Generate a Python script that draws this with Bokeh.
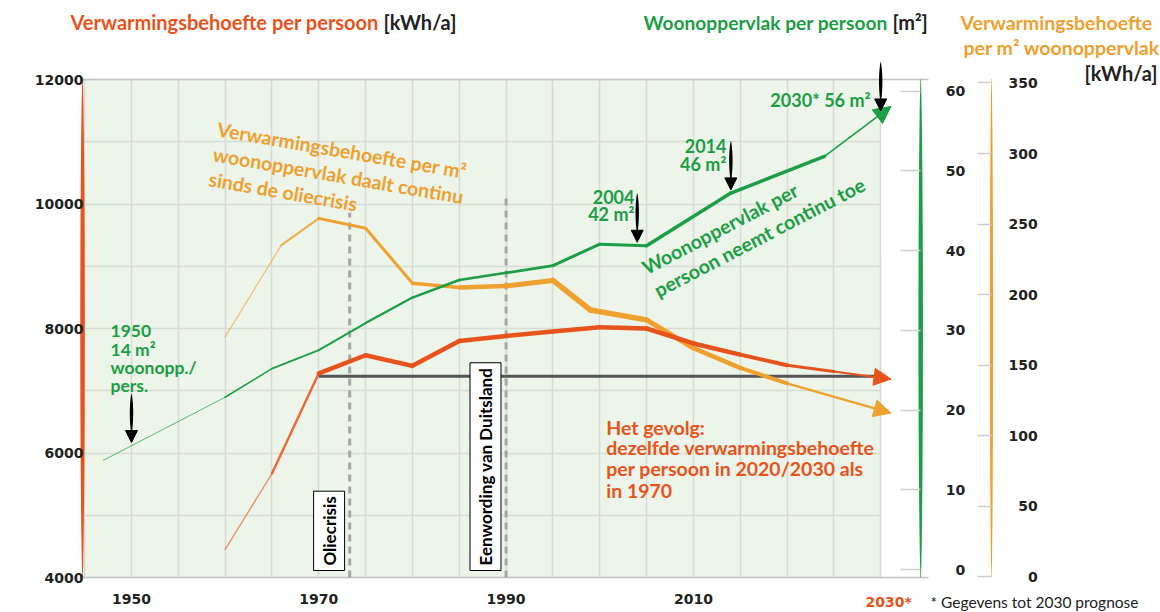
import math
import numpy as np
from bokeh.plotting import figure
from bokeh.models import (Range1d, LinearAxis, FixedTicker, Label, Arrow, NormalHead,
                          BoxAnnotation, ColumnDataSource, Grid)
from bokeh.embed import file_html
from bokeh.resources import INLINE

# ---------------- data ----------------
red_years = [1960, 1965, 1970, 1975, 1980, 1985, 1990, 1995, 2000, 2005, 2010, 2015, 2020, 2025, 2030]
red_kwh_per_person = [4450, 5670, 7280, 7570, 7400, 7800, 7880, 7950, 8020, 8000, 7760, 7580, 7410, 7310, 7210]

green_years = [1947, 1960, 1965, 1970, 1975, 1980, 1985, 1990, 1995, 2000, 2005, 2014, 2024, 2030]
green_m2_per_person = [13.7, 21.6, 25.2, 27.5, 30.9, 34.1, 36.3, 37.2, 38.1, 40.8, 40.6, 47.2, 51.8, 57.1]

orange_years = [1960, 1966, 1970, 1975, 1980, 1985, 1990, 1995, 1999, 2005, 2010, 2015, 2020, 2030]
orange_kwh_per_m2 = [170, 235, 254, 247, 208, 205, 206, 210, 189, 182, 162, 148, 137, 118]

level_1970 = 7234            # black reference line (kWh/a per person)
level_years = [1970, 2030]
event_years = [1973.3, 1990]
event_names = ["Oliecrisis", "Eenwording van Duitsland"]
callout_years = [1950, 2004, 2014, 2030]

left_ticks = [4000, 6000, 8000, 10000, 12000]
green_ticks = [0, 10, 20, 30, 40, 50, 60]
orange_ticks = [0, 50, 100, 150, 200, 250, 300, 350]
x_ticks = [1950, 1970, 1990, 2010, 2030]
x_grid_years = list(range(1945, 2031, 5))
y_grid_values = list(range(4000, 12001, 1000))

# ---------------- styles / layout ----------------
RED = "#e8531c"
GREEN = "#1b9e45"
ORANGE = "#efa02e"
DARK = "#222222"
BG = "#edf4e9"
GRIDC = "#d6dbd4"
TFONT = "Lato"
NFONT = "DejaVu Sans"
PX_PER_YEAR = 9.365

CH_L, CH_R, LIGHT_R = 1944.77, 2034.27, 2030      # chart box in years
ORANGE_AXIS_X = 2041.83
GREEN_BOUNDS = (-1.0, 61.44)
ORANGE_BOUNDS = (-0.71, 352.84)

red_w = [1.4, 2.5, 4.5, 4.5, 4.5, 4.5, 4.5, 4.5, 4.5, 4.5, 4.5, 4, 3, 2]
red_a = [0.6, 0.85] + [1] * 12
green_w = [1, 1.5, 1.8, 2, 2.2, 2.5, 2.5, 2.8, 3, 3, 3.5, 3.5, 1.6]
green_a = [0.7] + [1] * 12
orange_w = [1.3, 2, 3, 3, 3.5, 4.5, 5, 5.5, 5.5, 5, 4.5, 4, 2.2]
orange_a = [0.6, 0.85] + [1] * 11

p = figure(frame_width=1160, frame_height=612,
           min_border_left=0, min_border_right=0, min_border_top=0, min_border_bottom=0,
           x_range=Range1d(1936.012, 2059.877), y_range=Range1d(3437.75, 13269.1),
           output_backend="svg", toolbar_location=None,
           background_fill_color="white", border_fill_color="white", outline_line_color=None)
p.extra_y_ranges = {"green": Range1d(-5.39, 71.35), "orange": Range1d(-25.53, 408.51)}

# light green chart area
p.add_layout(BoxAnnotation(left=CH_L, right=LIGHT_R, bottom=4000, top=12000,
                           fill_color=BG, fill_alpha=1.0, line_alpha=0, level="image"))

# grids
p.xgrid.ticker = FixedTicker(ticks=x_grid_years)
p.ygrid.ticker = FixedTicker(ticks=y_grid_values)
if "cross_bounds" in Grid.properties():
    p.xgrid.cross_bounds = (4000, 12000)
    p.ygrid.cross_bounds = (CH_L, LIGHT_R)
    for g in (p.xgrid[0], p.ygrid[0]):
        g.grid_line_color = GRIDC
        g.grid_line_width = 1.5
else:
    p.xgrid.visible = False
    p.ygrid.visible = False
    p.segment(x0=x_grid_years, y0=[4000] * len(x_grid_years), x1=x_grid_years,
              y1=[12000] * len(x_grid_years), line_color=GRIDC, line_width=1.5)
    p.segment(x0=[CH_L] * len(y_grid_values), y0=y_grid_values, x1=[LIGHT_R] * len(y_grid_values),
              y1=y_grid_values, line_color=GRIDC, line_width=1.5)

# top / bottom border of chart box
p.segment(x0=[CH_L, CH_L], y0=[12000, 4000], x1=[2035.1, 2035.1], y1=[12000, 4000],
          line_color="#c4c4c4", line_width=1.5)


def spindle(xc, y0, y1, wmax_px, color, rng=None, n=120, power=0.5, floor=0.15):
    """tapered vertical bar (axis bars and arrow stems)"""
    t = np.linspace(0, 1, n)
    hw = wmax_px / 2 * np.clip(np.sin(np.pi * t) ** power, floor, 1.0) / PX_PER_YEAR
    ys = y0 + (y1 - y0) * t
    xs = np.concatenate([xc - hw, (xc + hw)[::-1]])
    yy = np.concatenate([ys, ys[::-1]])
    kw = {} if rng is None else {"y_range_name": rng}
    p.patch(xs, yy, fill_color=color, line_color=None, **kw)


spindle(CH_L, 4000, 12000, 4.5, RED)
spindle(CH_R, GREEN_BOUNDS[0], GREEN_BOUNDS[1], 4.5, GREEN, "green")
spindle(ORANGE_AXIS_X, ORANGE_BOUNDS[0], ORANGE_BOUNDS[1], 3.2, ORANGE, "orange")

# left axis
ax = p.yaxis[0]
ax.fixed_location = CH_L
ax.bounds = (4000, 12000)
ax.ticker = FixedTicker(ticks=left_ticks)
ax.major_tick_out = 0; ax.major_tick_in = 0; ax.minor_tick_out = 0; ax.minor_tick_in = 0
ax.axis_line_color = None
ax.major_label_text_font = NFONT; ax.major_label_text_font_style = "bold"
ax.major_label_text_font_size = "14px"; ax.major_label_text_color = DARK
ax.major_label_standoff = -1

# green axis
gax = LinearAxis(y_range_name="green", ticker=FixedTicker(ticks=green_ticks),
                 major_label_overrides={0: "\u20070"}, fixed_location=CH_R, bounds=GREEN_BOUNDS)
gax.major_tick_out = 0; gax.major_tick_in = 20; gax.minor_tick_out = 0; gax.minor_tick_in = 0
gax.major_tick_line_color = "#cfcfcf"; gax.major_tick_line_width = 1.5
gax.axis_line_color = None
gax.major_label_text_font = NFONT; gax.major_label_text_font_style = "bold"
gax.major_label_text_font_size = "14px"; gax.major_label_text_color = DARK
gax.major_label_standoff = 25
p.add_layout(gax, "right")

# orange axis
oax = LinearAxis(y_range_name="orange", ticker=FixedTicker(ticks=orange_ticks),
                 major_label_overrides={0: "\u2007\u20070", 50: "\u200750"},
                 fixed_location=ORANGE_AXIS_X, bounds=ORANGE_BOUNDS)
oax.major_tick_out = 0; oax.major_tick_in = 14; oax.minor_tick_out = 0; oax.minor_tick_in = 0
oax.major_tick_line_color = "#cfcfcf"; oax.major_tick_line_width = 1.5
oax.axis_line_color = None
oax.major_label_text_font = NFONT; oax.major_label_text_font_style = "bold"
oax.major_label_text_font_size = "14px"; oax.major_label_text_color = DARK
oax.major_label_standoff = 17
p.add_layout(oax, "right")

# x axis
xa = p.xaxis[0]
xa.fixed_location = 4000
xa.bounds = (CH_L, CH_R)
xa.ticker = FixedTicker(ticks=x_ticks)
xa.major_label_overrides = {2030: ""}
xa.axis_line_color = None
xa.major_tick_out = 0; xa.major_tick_in = 0; xa.minor_tick_out = 0; xa.minor_tick_in = 0
xa.major_label_text_font = NFONT; xa.major_label_text_font_style = "bold"
xa.major_label_text_font_size = "14px"; xa.major_label_text_color = DARK
xa.major_label_standoff = 16

# event dashed lines
p.segment(x0=event_years, y0=[4000, 4000], x1=event_years, y1=[9860, 10170],
          line_color="#a6a6a6", line_width=3, line_dash="7 5")

# black 1970 level line
p.line(x=level_years, y=[level_1970, level_1970], line_color="#555555", line_width=3)


def seg_source(xs, ys, w, a):
    return ColumnDataSource(dict(x0=xs[:-1], y0=ys[:-1], x1=xs[1:], y1=ys[1:], w=w, a=a))


p.segment("x0", "y0", "x1", "y1", source=seg_source(orange_years, orange_kwh_per_m2, orange_w, orange_a),
          line_color=ORANGE, line_width="w", line_alpha="a", line_cap="round", y_range_name="orange")
p.segment("x0", "y0", "x1", "y1", source=seg_source(green_years, green_m2_per_person, green_w, green_a),
          line_color=GREEN, line_width="w", line_alpha="a", line_cap="round", y_range_name="green")
p.segment("x0", "y0", "x1", "y1", source=seg_source(red_years, red_kwh_per_person, red_w, red_a),
          line_color=RED, line_width="w", line_alpha="a", line_cap="round")


def end_arrow(xs, ys, color, rng, ext=1.1, size=17):
    slope = (ys[-1] - ys[-2]) / (xs[-1] - xs[-2])
    kw = {} if rng is None else {"y_range_name": rng}
    p.add_layout(Arrow(end=NormalHead(size=size, fill_color=color, line_color=color),
                       x_start=xs[-1], y_start=ys[-1], x_end=xs[-1] + ext, y_end=ys[-1] + slope * ext,
                       line_color=color, line_width=2, **kw))


end_arrow(orange_years, orange_kwh_per_m2, ORANGE, "orange")
end_arrow(red_years, red_kwh_per_person, RED, None)
end_arrow(green_years, green_m2_per_person, GREEN, "green")

# black callout arrows onto the green line (spindle stem + head)
tips = list(np.interp(callout_years, green_years, green_m2_per_person) + 0.4)
for cx, tip in zip(callout_years, tips):
    spindle(cx, tip + 1.2, tip + 6.1, 3.4, "black", "green", power=0.6, floor=0.2)
    p.add_layout(Arrow(end=NormalHead(size=12, fill_color="black", line_color="black"),
                       x_start=cx, y_start=tip + 2.0, x_end=cx, y_end=tip,
                       line_alpha=0, y_range_name="green"))


def lab(x, y, text, color, size="19.5px", align="left", baseline="alphabetic", angle=0.0,
        font=TFONT, style="bold", lh=1.2):
    p.add_layout(Label(x=x, y=y, text=text, text_color=color, text_font=font,
                       text_font_size=size, text_font_style=style, text_align=align,
                       text_baseline=baseline, angle=angle, text_line_height=lh))


# titles
lab(1943.49, 12916, "Verwarmingsbehoefte per persoon", RED, size="20px", baseline="middle")
lab(1976.91, 12916, "[kWh/a]", DARK, size="20px", baseline="middle")
lab(2004.67, 12916, "Woonoppervlak per persoon", GREEN, size="19.2px", baseline="middle")
lab(2031.25, 12916, "[m\u00b2]", DARK, size="20px", baseline="middle")
lab(2038.52, 12916, "Verwarmingsbehoefte", ORANGE, size="19.5px", baseline="middle")
lab(2038.84, 12514, "per m\u00b2 woonoppervlak", ORANGE, size="19.5px", baseline="middle")
lab(2059.56, 12112, "[kWh/a]", DARK, size="20px", align="right", baseline="middle")

# bottom texts
lab(2028.38, 3614, "2030*", RED, size="14px", font=NFONT, baseline="middle")
lab(2035.32, 3614, "* Gegevens tot 2030 prognose", DARK, size="15.5px", style="normal", baseline="middle")

# rotated annotations
lab(1959.40, 11390, "Verwarmingsbehoefte per m\u00b2\nwoonoppervlak daalt continu\nsinds de oliecrisis",
    ORANGE, baseline="top", angle=-0.17, lh=1.1)
lab(2004.1, 9128, "Woonoppervlak per\npersoon neemt continu toe", GREEN, baseline="top", angle=0.48, lh=1.12)

# callout texts (one label per line)
for yv, t in zip([7952, 7663, 7374, 7084], ["1950", "14 m\u00b2", "woonopp./", "pers."]):
    lab(1947.76, yv, t, GREEN, size="17.5px")
for yv, t in zip([10109, 9843], ["2004", "42 m\u00b2"]):
    lab(2003.71, yv, t, GREEN, size="18px", align="right")
for yv, t in zip([10924, 10646], ["2014", "46 m\u00b2"]):
    lab(2013.53, yv, t, GREEN, size="18px", align="right")
lab(2028.91, 11663, "2030* 56 m\u00b2", GREEN, size="18px", align="right")
for yv, t in zip([6405, 6093, 5746, 5398],
                 ["Het gevolg:", "dezelfde verwarmingsbehoefte", "per persoon in 2020/2030 als", "in 1970"]):
    lab(2000.69, yv, t, RED)

# event boxes
for ex, name in zip(event_years, event_names):
    p.add_layout(Label(x=ex - 2.2, y=4112, text=name, angle=math.pi / 2, text_align="left",
                       text_baseline="middle", text_font=TFONT, text_font_style="bold",
                       text_font_size="17px", text_color="black", background_fill_color="white",
                       border_line_color="black", border_line_width=1, padding=5))

open("out.html", "w").write(file_html(p, INLINE))
